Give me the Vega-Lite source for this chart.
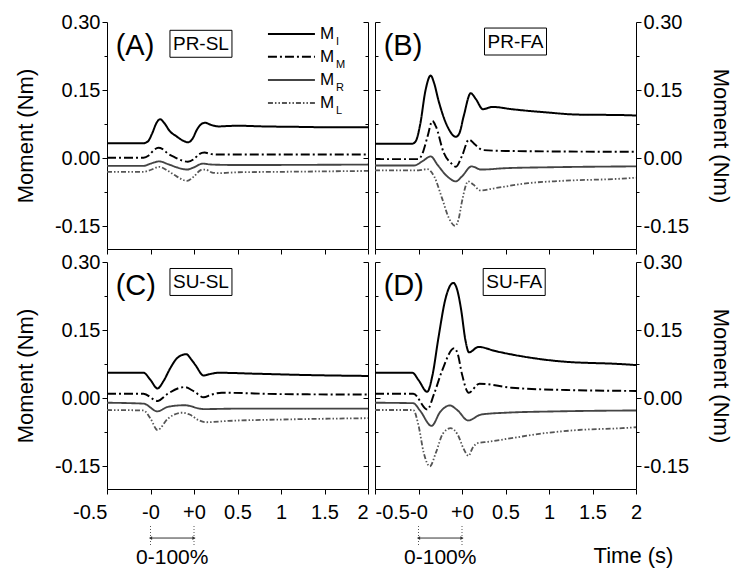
{
"$schema":"https://vega.github.io/schema/vega-lite/v6.json",
"background":"white",
"padding":{"left":14,"top":12,"right":2,"bottom":2},
"columns":2,
"spacing":{"row":13,"column":7},
"bounds":"flush",
"datasets":{
"curves":[
{"p":"A","s":"MI","t":-0.5,"m":0.033},{"p":"A","s":"MI","t":-0.08,"m":0.033},{"p":"A","s":"MI","t":-0.03,"m":0.037},{"p":"A","s":"MI","t":0.02,"m":0.055},{"p":"A","s":"MI","t":0.07,"m":0.078},{"p":"A","s":"MI","t":0.11,"m":0.086},{"p":"A","s":"MI","t":0.16,"m":0.077},{"p":"A","s":"MI","t":0.22,"m":0.06},{"p":"A","s":"MI","t":0.3,"m":0.048},{"p":"A","s":"MI","t":0.38,"m":0.038},{"p":"A","s":"MI","t":0.43,"m":0.035},{"p":"A","s":"MI","t":0.48,"m":0.042},{"p":"A","s":"MI","t":0.54,"m":0.065},{"p":"A","s":"MI","t":0.6,"m":0.077},{"p":"A","s":"MI","t":0.63,"m":0.078},{"p":"A","s":"MI","t":0.7,"m":0.073},{"p":"A","s":"MI","t":0.78,"m":0.07},{"p":"A","s":"MI","t":0.9,"m":0.071},{"p":"A","s":"MI","t":1.0,"m":0.0715},{"p":"A","s":"MI","t":1.3,"m":0.07},{"p":"A","s":"MI","t":1.7,"m":0.069},{"p":"A","s":"MI","t":2.1,"m":0.068},{"p":"A","s":"MI","t":2.5,"m":0.068},
{"p":"A","s":"MM","t":-0.5,"m":0.001},{"p":"A","s":"MM","t":-0.08,"m":0.001},{"p":"A","s":"MM","t":-0.02,"m":0.006},{"p":"A","s":"MM","t":0.04,"m":0.018},{"p":"A","s":"MM","t":0.09,"m":0.023},{"p":"A","s":"MM","t":0.14,"m":0.02},{"p":"A","s":"MM","t":0.2,"m":0.01},{"p":"A","s":"MM","t":0.28,"m":0.002},{"p":"A","s":"MM","t":0.36,"m":-0.005},{"p":"A","s":"MM","t":0.43,"m":-0.008},{"p":"A","s":"MM","t":0.5,"m":-0.002},{"p":"A","s":"MM","t":0.56,"m":0.009},{"p":"A","s":"MM","t":0.62,"m":0.0125},{"p":"A","s":"MM","t":0.7,"m":0.009},{"p":"A","s":"MM","t":0.8,"m":0.008},{"p":"A","s":"MM","t":1.5,"m":0.008},{"p":"A","s":"MM","t":2.5,"m":0.008},
{"p":"A","s":"MR","t":-0.5,"m":-0.017},{"p":"A","s":"MR","t":-0.08,"m":-0.017},{"p":"A","s":"MR","t":0.0,"m":-0.012},{"p":"A","s":"MR","t":0.1,"m":-0.007},{"p":"A","s":"MR","t":0.2,"m":-0.013},{"p":"A","s":"MR","t":0.3,"m":-0.02},{"p":"A","s":"MR","t":0.42,"m":-0.025},{"p":"A","s":"MR","t":0.5,"m":-0.02},{"p":"A","s":"MR","t":0.6,"m":-0.012},{"p":"A","s":"MR","t":0.7,"m":-0.014},{"p":"A","s":"MR","t":1.0,"m":-0.015},{"p":"A","s":"MR","t":2.5,"m":-0.014},
{"p":"A","s":"ML","t":-0.5,"m":-0.03},{"p":"A","s":"ML","t":-0.08,"m":-0.03},{"p":"A","s":"ML","t":0.0,"m":-0.026},{"p":"A","s":"ML","t":0.1,"m":-0.019},{"p":"A","s":"ML","t":0.2,"m":-0.028},{"p":"A","s":"ML","t":0.3,"m":-0.04},{"p":"A","s":"ML","t":0.42,"m":-0.05},{"p":"A","s":"ML","t":0.5,"m":-0.04},{"p":"A","s":"ML","t":0.58,"m":-0.026},{"p":"A","s":"ML","t":0.63,"m":-0.025},{"p":"A","s":"ML","t":0.7,"m":-0.031},{"p":"A","s":"ML","t":0.78,"m":-0.033},{"p":"A","s":"ML","t":1.0,"m":-0.031},{"p":"A","s":"ML","t":1.5,"m":-0.03},{"p":"A","s":"ML","t":2.5,"m":-0.028},
{"p":"B","s":"MI","t":-0.5,"m":0.032},{"p":"B","s":"MI","t":-0.07,"m":0.032},{"p":"B","s":"MI","t":-0.03,"m":0.038},{"p":"B","s":"MI","t":0.02,"m":0.075},{"p":"B","s":"MI","t":0.08,"m":0.149},{"p":"B","s":"MI","t":0.14,"m":0.182},{"p":"B","s":"MI","t":0.18,"m":0.165},{"p":"B","s":"MI","t":0.23,"m":0.127},{"p":"B","s":"MI","t":0.33,"m":0.071},{"p":"B","s":"MI","t":0.43,"m":0.047},{"p":"B","s":"MI","t":0.47,"m":0.055},{"p":"B","s":"MI","t":0.52,"m":0.093},{"p":"B","s":"MI","t":0.6,"m":0.143},{"p":"B","s":"MI","t":0.66,"m":0.13},{"p":"B","s":"MI","t":0.74,"m":0.108},{"p":"B","s":"MI","t":0.85,"m":0.113},{"p":"B","s":"MI","t":1.07,"m":0.108},{"p":"B","s":"MI","t":1.46,"m":0.101},{"p":"B","s":"MI","t":1.84,"m":0.096},{"p":"B","s":"MI","t":2.34,"m":0.095},{"p":"B","s":"MI","t":2.5,"m":0.094},
{"p":"B","s":"MM","t":-0.5,"m":-0.002},{"p":"B","s":"MM","t":0.0,"m":-0.002},{"p":"B","s":"MM","t":0.04,"m":0.008},{"p":"B","s":"MM","t":0.1,"m":0.045},{"p":"B","s":"MM","t":0.16,"m":0.082},{"p":"B","s":"MM","t":0.2,"m":0.07},{"p":"B","s":"MM","t":0.29,"m":0.012},{"p":"B","s":"MM","t":0.38,"m":-0.012},{"p":"B","s":"MM","t":0.43,"m":-0.019},{"p":"B","s":"MM","t":0.5,"m":0.005},{"p":"B","s":"MM","t":0.58,"m":0.041},{"p":"B","s":"MM","t":0.65,"m":0.03},{"p":"B","s":"MM","t":0.74,"m":0.018},{"p":"B","s":"MM","t":1.0,"m":0.016},{"p":"B","s":"MM","t":2.5,"m":0.014},
{"p":"B","s":"MR","t":-0.5,"m":-0.016},{"p":"B","s":"MR","t":-0.05,"m":-0.016},{"p":"B","s":"MR","t":0.05,"m":-0.006},{"p":"B","s":"MR","t":0.14,"m":0.004},{"p":"B","s":"MR","t":0.22,"m":-0.015},{"p":"B","s":"MR","t":0.33,"m":-0.04},{"p":"B","s":"MR","t":0.43,"m":-0.051},{"p":"B","s":"MR","t":0.5,"m":-0.04},{"p":"B","s":"MR","t":0.61,"m":-0.018},{"p":"B","s":"MR","t":0.72,"m":-0.025},{"p":"B","s":"MR","t":1.0,"m":-0.022},{"p":"B","s":"MR","t":1.5,"m":-0.02},{"p":"B","s":"MR","t":2.5,"m":-0.018},
{"p":"B","s":"ML","t":-0.5,"m":-0.027},{"p":"B","s":"ML","t":0.0,"m":-0.027},{"p":"B","s":"ML","t":0.1,"m":-0.024},{"p":"B","s":"ML","t":0.18,"m":-0.04},{"p":"B","s":"ML","t":0.27,"m":-0.088},{"p":"B","s":"ML","t":0.35,"m":-0.132},{"p":"B","s":"ML","t":0.42,"m":-0.149},{"p":"B","s":"ML","t":0.46,"m":-0.135},{"p":"B","s":"ML","t":0.5,"m":-0.095},{"p":"B","s":"ML","t":0.57,"m":-0.051},{"p":"B","s":"ML","t":0.63,"m":-0.058},{"p":"B","s":"ML","t":0.71,"m":-0.071},{"p":"B","s":"ML","t":0.88,"m":-0.066},{"p":"B","s":"ML","t":1.26,"m":-0.055},{"p":"B","s":"ML","t":1.64,"m":-0.05},{"p":"B","s":"ML","t":2.34,"m":-0.045},{"p":"B","s":"ML","t":2.5,"m":-0.043},
{"p":"C","s":"MI","t":-0.5,"m":0.056},{"p":"C","s":"MI","t":-0.08,"m":0.056},{"p":"C","s":"MI","t":0.0,"m":0.04},{"p":"C","s":"MI","t":0.08,"m":0.0215},{"p":"C","s":"MI","t":0.15,"m":0.038},{"p":"C","s":"MI","t":0.23,"m":0.067},{"p":"C","s":"MI","t":0.31,"m":0.089},{"p":"C","s":"MI","t":0.41,"m":0.097},{"p":"C","s":"MI","t":0.47,"m":0.085},{"p":"C","s":"MI","t":0.52,"m":0.072},{"p":"C","s":"MI","t":0.61,"m":0.05},{"p":"C","s":"MI","t":0.68,"m":0.053},{"p":"C","s":"MI","t":0.78,"m":0.056},{"p":"C","s":"MI","t":1.2,"m":0.054},{"p":"C","s":"MI","t":1.8,"m":0.051},{"p":"C","s":"MI","t":2.5,"m":0.049},
{"p":"C","s":"MM","t":-0.5,"m":0.01},{"p":"C","s":"MM","t":-0.08,"m":0.01},{"p":"C","s":"MM","t":0.08,"m":-0.006},{"p":"C","s":"MM","t":0.2,"m":0.01},{"p":"C","s":"MM","t":0.39,"m":0.0245},{"p":"C","s":"MM","t":0.5,"m":0.015},{"p":"C","s":"MM","t":0.61,"m":0.002},{"p":"C","s":"MM","t":0.7,"m":0.008},{"p":"C","s":"MM","t":0.82,"m":0.012},{"p":"C","s":"MM","t":1.5,"m":0.009},{"p":"C","s":"MM","t":2.5,"m":0.008},
{"p":"C","s":"MR","t":-0.5,"m":-0.01},{"p":"C","s":"MR","t":-0.08,"m":-0.012},{"p":"C","s":"MR","t":0.08,"m":-0.029},{"p":"C","s":"MR","t":0.2,"m":-0.019},{"p":"C","s":"MR","t":0.39,"m":-0.0155},{"p":"C","s":"MR","t":0.61,"m":-0.024},{"p":"C","s":"MR","t":1.0,"m":-0.023},{"p":"C","s":"MR","t":2.5,"m":-0.023},
{"p":"C","s":"ML","t":-0.5,"m":-0.026},{"p":"C","s":"ML","t":-0.08,"m":-0.027},{"p":"C","s":"ML","t":0.0,"m":-0.045},{"p":"C","s":"ML","t":0.08,"m":-0.07},{"p":"C","s":"ML","t":0.2,"m":-0.045},{"p":"C","s":"ML","t":0.36,"m":-0.032},{"p":"C","s":"ML","t":0.45,"m":-0.036},{"p":"C","s":"ML","t":0.55,"m":-0.048},{"p":"C","s":"ML","t":0.63,"m":-0.053},{"p":"C","s":"ML","t":0.9,"m":-0.05},{"p":"C","s":"ML","t":1.5,"m":-0.047},{"p":"C","s":"ML","t":2.5,"m":-0.044},
{"p":"D","s":"MI","t":-0.5,"m":0.056},{"p":"D","s":"MI","t":-0.07,"m":0.056},{"p":"D","s":"MI","t":0.0,"m":0.04},{"p":"D","s":"MI","t":0.1,"m":0.014},{"p":"D","s":"MI","t":0.16,"m":0.05},{"p":"D","s":"MI","t":0.23,"m":0.134},{"p":"D","s":"MI","t":0.31,"m":0.219},{"p":"D","s":"MI","t":0.4,"m":0.254},{"p":"D","s":"MI","t":0.45,"m":0.235},{"p":"D","s":"MI","t":0.49,"m":0.195},{"p":"D","s":"MI","t":0.54,"m":0.127},{"p":"D","s":"MI","t":0.58,"m":0.101},{"p":"D","s":"MI","t":0.69,"m":0.113},{"p":"D","s":"MI","t":0.88,"m":0.104},{"p":"D","s":"MI","t":1.26,"m":0.09},{"p":"D","s":"MI","t":1.64,"m":0.081},{"p":"D","s":"MI","t":2.34,"m":0.075},{"p":"D","s":"MI","t":2.5,"m":0.073},
{"p":"D","s":"MM","t":-0.5,"m":0.01},{"p":"D","s":"MM","t":-0.06,"m":0.01},{"p":"D","s":"MM","t":0.1,"m":-0.025},{"p":"D","s":"MM","t":0.18,"m":0.01},{"p":"D","s":"MM","t":0.27,"m":0.06},{"p":"D","s":"MM","t":0.41,"m":0.11},{"p":"D","s":"MM","t":0.45,"m":0.098},{"p":"D","s":"MM","t":0.5,"m":0.053},{"p":"D","s":"MM","t":0.577,"m":0.012},{"p":"D","s":"MM","t":0.7,"m":0.032},{"p":"D","s":"MM","t":1.07,"m":0.023},{"p":"D","s":"MM","t":1.7,"m":0.018},{"p":"D","s":"MM","t":2.5,"m":0.016},
{"p":"D","s":"MR","t":-0.5,"m":-0.01},{"p":"D","s":"MR","t":-0.06,"m":-0.011},{"p":"D","s":"MR","t":0.02,"m":-0.028},{"p":"D","s":"MR","t":0.15,"m":-0.061},{"p":"D","s":"MR","t":0.25,"m":-0.03},{"p":"D","s":"MR","t":0.36,"m":-0.016},{"p":"D","s":"MR","t":0.45,"m":-0.027},{"p":"D","s":"MR","t":0.57,"m":-0.049},{"p":"D","s":"MR","t":0.72,"m":-0.036},{"p":"D","s":"MR","t":1.0,"m":-0.032},{"p":"D","s":"MR","t":1.6,"m":-0.029},{"p":"D","s":"MR","t":2.5,"m":-0.027},
{"p":"D","s":"ML","t":-0.5,"m":-0.026},{"p":"D","s":"ML","t":-0.06,"m":-0.026},{"p":"D","s":"ML","t":0.0,"m":-0.06},{"p":"D","s":"ML","t":0.06,"m":-0.12},{"p":"D","s":"ML","t":0.13,"m":-0.15},{"p":"D","s":"ML","t":0.2,"m":-0.12},{"p":"D","s":"ML","t":0.28,"m":-0.078},{"p":"D","s":"ML","t":0.37,"m":-0.066},{"p":"D","s":"ML","t":0.45,"m":-0.08},{"p":"D","s":"ML","t":0.52,"m":-0.112},{"p":"D","s":"ML","t":0.575,"m":-0.127},{"p":"D","s":"ML","t":0.62,"m":-0.11},{"p":"D","s":"ML","t":0.68,"m":-0.099},{"p":"D","s":"ML","t":0.8,"m":-0.096},{"p":"D","s":"ML","t":1.07,"m":-0.088},{"p":"D","s":"ML","t":1.45,"m":-0.077},{"p":"D","s":"ML","t":1.84,"m":-0.07},{"p":"D","s":"ML","t":2.34,"m":-0.066},{"p":"D","s":"ML","t":2.5,"m":-0.064}
],
"boxes":[{"p":"A","label":"PR-SL","t":0.58,"m":0.252},{"p":"B","label":"PR-FA","t":1.115,"m":0.257},{"p":"C","label":"SU-SL","t":0.58,"m":0.256},{"p":"D","label":"SU-FA","t":1.1,"m":0.256}],
"letters":[{"p":"A","label":"(A)","t":-0.4,"m":0.247},{"p":"B","label":"(B)","t":-0.4,"m":0.247},{"p":"C","label":"(C)","t":-0.4,"m":0.247},{"p":"D","label":"(D)","t":-0.4,"m":0.247}],
"legend":[{"s":"MI","sub":"I","t":1.35,"t2":1.89,"m":0.2736},{"s":"MM","sub":"M","t":1.35,"t2":1.89,"m":0.2236},{"s":"MR","sub":"R","t":1.35,"t2":1.89,"m":0.1722},{"s":"ML","sub":"L","t":1.35,"t2":1.89,"m":0.1216}],
"span":[{"t":0,"m":-0.2815,"m2":-0.3256},{"t":0.5,"m":-0.2815,"m2":-0.3256}],
"arrow":[{"t":0,"t2":0.5,"m":-0.308}],
"heads":[{"t":0,"d":"L","m":-0.308},{"t":0.5,"d":"R","m":-0.308}],
"spanlabel":[{"t":0.25,"m":-0.352,"label":"0-100%"}]
},
"concat":[
{"width":261,"height":227,"resolve":{"axis":{"y":"independent"}},
"layer":[
{"data":{"name":"curves"},"transform":[{"filter":"datum.p=='A'"}],"mark":{"type":"line","interpolate":"monotone"},
"encoding":{
"x":{"field":"t","type":"quantitative","scale":{"domain":[-0.5,2.5],"nice":false,"zero":false},"axis":{"values":[-0.5,-0.25,0,0.25,0.5,0.75,1,1.25,1.5,1.75,2,2.25,2.5],"labels":false,"title":null,"tickSize":{"condition":{"test":"datum.value*2==round(datum.value*2)","value":5},"value":3}}},
"y":{"field":"m","type":"quantitative","scale":{"domain":[-0.2,0.3],"nice":false,"zero":false},"axis":{"orient":"left","values":[-0.15,-0.075,0,0.075,0.15,0.225,0.3],"labelExpr":"datum.value==-0.15?'-0.15':datum.value==0?'0.00':datum.value==0.15?'0.15':datum.value==0.3?'0.30':''","tickSize":{"condition":{"test":"indexof([-0.15,0,0.15,0.3],datum.value)>=0","value":5},"value":3},"labelPadding":2,"title":"Moment (Nm)","titlePadding":17}},
"color":{"field":"s","type":"nominal","scale":{"domain":["MI","MM","MR","ML"],"range":["#000000","#000000","#444444","#555555"]},"legend":null},
"strokeDash":{"field":"s","type":"nominal","scale":{"domain":["MI","MM","MR","ML"],"range":[[1,0],[9,3,2,3],[1,0],[5,2,1.5,2,1.5,2]]},"legend":null},
"strokeWidth":{"field":"s","type":"nominal","scale":{"domain":["MI","MM","MR","ML"],"range":[2,1.8,0.9,0.9]},"legend":null}}},
{"data":{"name":"boxes"},"transform":[{"filter":"datum.p=='A'"}],"mark":{"type":"point","shape":"M-1,-0.435H1V0.435H-1Z","size":3844,"filled":false,"stroke":"#000000","strokeWidth":1,"opacity":1},
"encoding":{"x":{"field":"t","type":"quantitative"},"y":{"field":"m","type":"quantitative","axis":{"orient":"right","values":[-0.15,-0.075,0,0.075,0.15,0.225,0.3],"labels":false,"title":null,"tickSize":{"condition":{"test":"indexof([-0.15,0,0.15,0.3],datum.value)>=0","value":-5},"value":-3}}}}},
{"data":{"name":"boxes"},"transform":[{"filter":"datum.p=='A'"}],"mark":{"type":"text","fontSize":19,"baseline":"middle","align":"center"},
"encoding":{"x":{"field":"t","type":"quantitative"},"y":{"field":"m","type":"quantitative","axis":null},"text":{"field":"label"}}},
{"data":{"name":"letters"},"transform":[{"filter":"datum.p=='A'"}],"mark":{"type":"text","fontSize":29,"baseline":"middle","align":"left"},
"encoding":{"x":{"field":"t","type":"quantitative"},"y":{"field":"m","type":"quantitative","axis":null},"text":{"field":"label"}}},
{"data":{"name":"legend"},"mark":{"type":"rule"},
"encoding":{"x":{"field":"t","type":"quantitative"},"x2":{"field":"t2"},"y":{"field":"m","type":"quantitative","axis":null},
"color":{"field":"s","type":"nominal","legend":null},"strokeDash":{"field":"s","type":"nominal","legend":null},"strokeWidth":{"field":"s","type":"nominal","legend":null}}},
{"data":{"name":"legend"},"mark":{"type":"text","fontSize":17,"baseline":"middle","align":"left","dx":5},
"encoding":{"x":{"field":"t2","type":"quantitative"},"y":{"field":"m","type":"quantitative","axis":null},"text":{"value":"M"}}},
{"data":{"name":"legend"},"mark":{"type":"text","fontSize":11,"baseline":"middle","align":"left","dx":21,"dy":8},
"encoding":{"x":{"field":"t2","type":"quantitative"},"y":{"field":"m","type":"quantitative","axis":null},"text":{"field":"sub"}}}
]},
{"width":261,"height":227,"resolve":{"axis":{"y":"independent"}},
"layer":[
{"data":{"name":"curves"},"transform":[{"filter":"datum.p=='B'"}],"mark":{"type":"line","interpolate":"monotone"},
"encoding":{
"x":{"field":"t","type":"quantitative","scale":{"domain":[-0.5,2.5],"nice":false,"zero":false},"axis":{"values":[-0.5,-0.25,0,0.25,0.5,0.75,1,1.25,1.5,1.75,2,2.25,2.5],"labels":false,"title":null,"tickSize":{"condition":{"test":"datum.value*2==round(datum.value*2)","value":5},"value":3}}},
"y":{"field":"m","type":"quantitative","scale":{"domain":[-0.2,0.3],"nice":false,"zero":false},"axis":{"orient":"right","values":[-0.15,-0.075,0,0.075,0.15,0.225,0.3],"labelExpr":"datum.value==-0.15?'-0.15':datum.value==0?'0.00':datum.value==0.15?'0.15':datum.value==0.3?'0.30':''","tickSize":{"condition":{"test":"indexof([-0.15,0,0.15,0.3],datum.value)>=0","value":5},"value":3},"labelPadding":2,"title":"Moment (Nm)","titleAngle":90,"titlePadding":20}},
"color":{"field":"s","type":"nominal","scale":{"domain":["MI","MM","MR","ML"],"range":["#000000","#000000","#444444","#555555"]},"legend":null},
"strokeDash":{"field":"s","type":"nominal","scale":{"domain":["MI","MM","MR","ML"],"range":[[1,0],[9,3,2,3],[1,0],[5,2,1.5,2,1.5,2]]},"legend":null},
"strokeWidth":{"field":"s","type":"nominal","scale":{"domain":["MI","MM","MR","ML"],"range":[2,1.8,0.9,0.9]},"legend":null}}},
{"data":{"name":"boxes"},"transform":[{"filter":"datum.p=='B'"}],"mark":{"type":"point","shape":"M-1,-0.435H1V0.435H-1Z","size":3844,"filled":false,"stroke":"#000000","strokeWidth":1,"opacity":1},
"encoding":{"x":{"field":"t","type":"quantitative"},"y":{"field":"m","type":"quantitative","axis":{"orient":"left","values":[-0.15,-0.075,0,0.075,0.15,0.225,0.3],"labels":false,"title":null,"tickSize":{"condition":{"test":"indexof([-0.15,0,0.15,0.3],datum.value)>=0","value":-5},"value":-3}}}}},
{"data":{"name":"boxes"},"transform":[{"filter":"datum.p=='B'"}],"mark":{"type":"text","fontSize":19,"baseline":"middle","align":"center"},
"encoding":{"x":{"field":"t","type":"quantitative"},"y":{"field":"m","type":"quantitative","axis":null},"text":{"field":"label"}}},
{"data":{"name":"letters"},"transform":[{"filter":"datum.p=='B'"}],"mark":{"type":"text","fontSize":29,"baseline":"middle","align":"left"},
"encoding":{"x":{"field":"t","type":"quantitative"},"y":{"field":"m","type":"quantitative","axis":null},"text":{"field":"label"}}}
]},
{"width":261,"height":227,"resolve":{"axis":{"y":"independent"}},
"layer":[
{"data":{"name":"curves"},"transform":[{"filter":"datum.p=='C'"}],"mark":{"type":"line","interpolate":"monotone"},
"encoding":{
"x":{"field":"t","type":"quantitative","scale":{"domain":[-0.5,2.5],"nice":false,"zero":false},"axis":{"values":[-0.5,-0.25,0,0.25,0.5,0.75,1,1.25,1.5,1.75,2,2.25,2.5],"labelExpr":"datum.value==-0.5?'-0.5':datum.value==0?'-0':datum.value==0.5?'+0':datum.value==1?'0.5':datum.value==1.5?'1':datum.value==2?'1.5':datum.value==2.5?'2':''","labelAlign":{"condition":{"test":"datum.value==-0.5||datum.value==2.5","value":"right"},"value":"center"},"labelPadding":8,"labelOverlap":false,"title":null,"tickSize":{"condition":{"test":"datum.value*2==round(datum.value*2)","value":5},"value":3}}},
"y":{"field":"m","type":"quantitative","scale":{"domain":[-0.2,0.3],"nice":false,"zero":false},"axis":{"orient":"left","values":[-0.15,-0.075,0,0.075,0.15,0.225,0.3],"labelExpr":"datum.value==-0.15?'-0.15':datum.value==0?'0.00':datum.value==0.15?'0.15':datum.value==0.3?'0.30':''","tickSize":{"condition":{"test":"indexof([-0.15,0,0.15,0.3],datum.value)>=0","value":5},"value":3},"labelPadding":2,"title":"Moment (Nm)","titlePadding":17}},
"color":{"field":"s","type":"nominal","scale":{"domain":["MI","MM","MR","ML"],"range":["#000000","#000000","#444444","#555555"]},"legend":null},
"strokeDash":{"field":"s","type":"nominal","scale":{"domain":["MI","MM","MR","ML"],"range":[[1,0],[9,3,2,3],[1,0],[5,2,1.5,2,1.5,2]]},"legend":null},
"strokeWidth":{"field":"s","type":"nominal","scale":{"domain":["MI","MM","MR","ML"],"range":[2,1.8,0.9,0.9]},"legend":null}}},
{"data":{"name":"boxes"},"transform":[{"filter":"datum.p=='C'"}],"mark":{"type":"point","shape":"M-1,-0.435H1V0.435H-1Z","size":3844,"filled":false,"stroke":"#000000","strokeWidth":1,"opacity":1},
"encoding":{"x":{"field":"t","type":"quantitative"},"y":{"field":"m","type":"quantitative","axis":{"orient":"right","values":[-0.15,-0.075,0,0.075,0.15,0.225,0.3],"labels":false,"title":null,"tickSize":{"condition":{"test":"indexof([-0.15,0,0.15,0.3],datum.value)>=0","value":-5},"value":-3}}}}},
{"data":{"name":"boxes"},"transform":[{"filter":"datum.p=='C'"}],"mark":{"type":"text","fontSize":19,"baseline":"middle","align":"center"},
"encoding":{"x":{"field":"t","type":"quantitative"},"y":{"field":"m","type":"quantitative","axis":null},"text":{"field":"label"}}},
{"data":{"name":"letters"},"transform":[{"filter":"datum.p=='C'"}],"mark":{"type":"text","fontSize":29,"baseline":"middle","align":"left"},
"encoding":{"x":{"field":"t","type":"quantitative"},"y":{"field":"m","type":"quantitative","axis":null},"text":{"field":"label"}}},
{"data":{"name":"span"},"mark":{"type":"rule","strokeDash":[1,2],"stroke":"#555555","strokeWidth":1},
"encoding":{"x":{"field":"t","type":"quantitative"},"y":{"field":"m","type":"quantitative","axis":null},"y2":{"field":"m2"}}},
{"data":{"name":"arrow"},"mark":{"type":"rule","stroke":"#333333","strokeWidth":1},
"encoding":{"x":{"field":"t","type":"quantitative"},"x2":{"field":"t2"},"y":{"field":"m","type":"quantitative","axis":null}}},
{"data":{"name":"heads"},"mark":{"type":"point","filled":true,"size":14,"color":"#333333","opacity":1},
"encoding":{"x":{"field":"t","type":"quantitative"},"y":{"field":"m","type":"quantitative","axis":null},"shape":{"field":"d","type":"nominal","scale":{"domain":["L","R"],"range":["triangle-left","triangle-right"]},"legend":null}}},
{"data":{"name":"spanlabel"},"mark":{"type":"text","fontSize":21,"baseline":"middle","align":"center"},
"encoding":{"x":{"field":"t","type":"quantitative"},"y":{"field":"m","type":"quantitative","axis":null},"text":{"field":"label"}}}
]},
{"width":261,"height":227,"resolve":{"axis":{"y":"independent"}},
"layer":[
{"data":{"name":"curves"},"transform":[{"filter":"datum.p=='D'"}],"mark":{"type":"line","interpolate":"monotone"},
"encoding":{
"x":{"field":"t","type":"quantitative","scale":{"domain":[-0.5,2.5],"nice":false,"zero":false},"axis":{"values":[-0.5,-0.25,0,0.25,0.5,0.75,1,1.25,1.5,1.75,2,2.25,2.5],"labelExpr":"datum.value==-0.5?'-0.5':datum.value==0?'-0':datum.value==0.5?'+0':datum.value==1?'0.5':datum.value==1.5?'1':datum.value==2?'1.5':datum.value==2.5?'2':''","labelAlign":{"condition":{"test":"datum.value==-0.5","value":"left"},"value":"center"},"labelPadding":8,"labelOverlap":false,"title":"Time (s)","titleX":258,"titleY":66,"titleBaseline":"middle","titleAlign":"center","tickSize":{"condition":{"test":"datum.value*2==round(datum.value*2)","value":5},"value":3}}},
"y":{"field":"m","type":"quantitative","scale":{"domain":[-0.2,0.3],"nice":false,"zero":false},"axis":{"orient":"right","values":[-0.15,-0.075,0,0.075,0.15,0.225,0.3],"labelExpr":"datum.value==-0.15?'-0.15':datum.value==0?'0.00':datum.value==0.15?'0.15':datum.value==0.3?'0.30':''","tickSize":{"condition":{"test":"indexof([-0.15,0,0.15,0.3],datum.value)>=0","value":5},"value":3},"labelPadding":2,"title":"Moment (Nm)","titleAngle":90,"titlePadding":20}},
"color":{"field":"s","type":"nominal","scale":{"domain":["MI","MM","MR","ML"],"range":["#000000","#000000","#444444","#555555"]},"legend":null},
"strokeDash":{"field":"s","type":"nominal","scale":{"domain":["MI","MM","MR","ML"],"range":[[1,0],[9,3,2,3],[1,0],[5,2,1.5,2,1.5,2]]},"legend":null},
"strokeWidth":{"field":"s","type":"nominal","scale":{"domain":["MI","MM","MR","ML"],"range":[2,1.8,0.9,0.9]},"legend":null}}},
{"data":{"name":"boxes"},"transform":[{"filter":"datum.p=='D'"}],"mark":{"type":"point","shape":"M-1,-0.435H1V0.435H-1Z","size":3844,"filled":false,"stroke":"#000000","strokeWidth":1,"opacity":1},
"encoding":{"x":{"field":"t","type":"quantitative"},"y":{"field":"m","type":"quantitative","axis":{"orient":"left","values":[-0.15,-0.075,0,0.075,0.15,0.225,0.3],"labels":false,"title":null,"tickSize":{"condition":{"test":"indexof([-0.15,0,0.15,0.3],datum.value)>=0","value":-5},"value":-3}}}}},
{"data":{"name":"boxes"},"transform":[{"filter":"datum.p=='D'"}],"mark":{"type":"text","fontSize":19,"baseline":"middle","align":"center"},
"encoding":{"x":{"field":"t","type":"quantitative"},"y":{"field":"m","type":"quantitative","axis":null},"text":{"field":"label"}}},
{"data":{"name":"letters"},"transform":[{"filter":"datum.p=='D'"}],"mark":{"type":"text","fontSize":29,"baseline":"middle","align":"left"},
"encoding":{"x":{"field":"t","type":"quantitative"},"y":{"field":"m","type":"quantitative","axis":null},"text":{"field":"label"}}},
{"data":{"name":"span"},"mark":{"type":"rule","strokeDash":[1,2],"stroke":"#555555","strokeWidth":1},
"encoding":{"x":{"field":"t","type":"quantitative"},"y":{"field":"m","type":"quantitative","axis":null},"y2":{"field":"m2"}}},
{"data":{"name":"arrow"},"mark":{"type":"rule","stroke":"#333333","strokeWidth":1},
"encoding":{"x":{"field":"t","type":"quantitative"},"x2":{"field":"t2"},"y":{"field":"m","type":"quantitative","axis":null}}},
{"data":{"name":"heads"},"mark":{"type":"point","filled":true,"size":14,"color":"#333333","opacity":1},
"encoding":{"x":{"field":"t","type":"quantitative"},"y":{"field":"m","type":"quantitative","axis":null},"shape":{"field":"d","type":"nominal","scale":{"domain":["L","R"],"range":["triangle-left","triangle-right"]},"legend":null}}},
{"data":{"name":"spanlabel"},"mark":{"type":"text","fontSize":21,"baseline":"middle","align":"center"},
"encoding":{"x":{"field":"t","type":"quantitative"},"y":{"field":"m","type":"quantitative","axis":null},"text":{"field":"label"}}}
]}
],
"config":{"view":{"stroke":null},"font":"Liberation Sans",
"text":{"font":"Liberation Sans","color":"#000000"},
"axis":{"grid":false,"domainColor":"#000000","tickColor":"#000000","labelColor":"#000000","titleColor":"#000000","domainWidth":1,"tickWidth":1,"labelFontSize":20,"titleFontSize":22,"titleFontWeight":"normal","labelFont":"Liberation Sans","titleFont":"Liberation Sans","labelOverlap":false,"labelBound":false,"labelFlush":false}}
}
